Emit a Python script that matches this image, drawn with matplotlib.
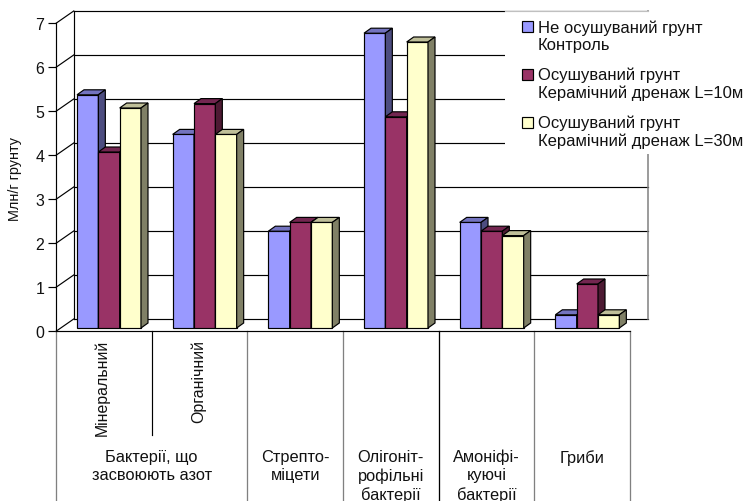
import matplotlib
matplotlib.use("Agg")
import matplotlib.pyplot as plt
from matplotlib.patches import Polygon, Patch, Rectangle
from matplotlib.legend_handler import HandlerPatch

plt.rcParams['font.family'] = ['Liberation Sans', 'DejaVu Sans']

# ---- data ----
groups = ["Мінеральний", "Органічний", "Стрепто-\nміцети", "Олігоніт-\nрофільні\nбактерії",
          "Амоніфі-\nкуючі\nбактерії", "Гриби"]
parent_label = "Бактерії, що\nзасвоюють азот"
series_names = ["Не осушуваний грунт\nКонтроль",
                "Осушуваний грунт\nКерамічний дренаж L=10м",
                "Осушуваний грунт\nКерамічний дренаж L=30м"]
control = [5.3, 4.4, 2.2, 6.7, 2.4, 0.3]
drain10 = [4.0, 5.1, 2.4, 4.8, 2.2, 1.0]
drain30 = [5.0, 4.4, 2.4, 6.5, 2.1, 0.3]
yticks = [0, 1, 2, 3, 4, 5, 6, 7]
ylabel = "Млн/г грунту"

# ---- styles / geometry (pixels of the 747x502 picture) ----
W, H = 747, 502
X0, Y0 = 56.0, 332.3      # data origin in pixels
CW, UH = 95.67, 44.0      # px per category, px per unit
sx = lambda px: px / CW
sy = lambda px: px / UH
faces = ["#9999FF", "#993366", "#FFFFCC"]
tops = ["#7373BF", "#732650", "#BFBF99"]
sides = ["#4D4D80", "#4D1A33", "#808066"]
GRAY = "#808080"
LW = 0.85
TXT = "#111111"


class FirstLineHandler(HandlerPatch):
    """Legend swatch aligned with the first line of a two-line label."""
    def create_artists(self, legend, orig_handle, xdescent, ydescent, width, height, fontsize, trans):
        artists = super().create_artists(legend, orig_handle, xdescent, ydescent, width, height, fontsize, trans)
        for a in artists:
            a.set_y(a.get_y() + 6.6)
        return artists


fig = plt.figure(figsize=(W / 100, H / 100), dpi=100, facecolor="white")
ax = fig.add_axes([0, 0, 1, 1])
ax.set_xlim(-X0 / CW, (W - X0) / CW)
ax.set_ylim((Y0 - H) / UH, Y0 / UH)
ax.patch.set_alpha(0)

# walls
wx, wy = sx(17.7), sy(12.3)
xr = 6
for v in yticks:
    ax.plot([wx, xr + wx], [v + wy, v + wy], color="black", lw=LW, zorder=1)
    ax.plot([0, wx], [v, v + wy], color="black", lw=LW, zorder=1)
ax.plot([wx, wx], [wy, 7 + wy], color="black", lw=LW, zorder=1)
ax.plot([xr + wx, xr + wx], [wy, 7 + wy], color=GRAY, lw=LW * 1.3, zorder=1)

# white legend panel that hides the right end of the back wall
ax.add_patch(Rectangle((505 / W, 1 - 155 / H), (W - 505) / W, 143 / H, transform=fig.transFigure,
                       facecolor="white", edgecolor="none", zorder=1.5))
ax.plot([sx(505 - X0), xr + wx], [7 + wy, 7 + wy], color="#C0C0C0", lw=LW, zorder=1.6)

# bars
dx, dy = sx(7), sy(5)
bw = 21.33 / CW
off = 21.0 / CW
base = 3.3 / UH
for s, vals in enumerate([control, drain10, drain30]):
    xs = [i + off + s * bw for i in range(len(vals))]
    ax.bar(xs, vals, width=bw, bottom=base, align="edge", color=faces[s],
           edgecolor="black", linewidth=LW, zorder=3 + 2 * s)
    for x, v in zip(xs, vals):
        t = base + v
        ax.add_patch(Polygon([(x, t), (x + dx, t + dy), (x + bw + dx, t + dy), (x + bw, t)],
                             facecolor=tops[s], edgecolor="black", lw=LW, zorder=3 + 2 * s))
        ax.add_patch(Polygon([(x + bw, base), (x + bw + dx, base + dy), (x + bw + dx, t + dy), (x + bw, t)],
                             facecolor=sides[s], edgecolor="black", lw=LW, zorder=3 + 2 * s))

# axes
for k in ("top", "right"):
    ax.spines[k].set_visible(False)
ax.spines["left"].set_position(("data", 0))
ax.spines["bottom"].set_position(("data", 0))
ax.spines["left"].set_bounds(0, 7)
ax.spines["bottom"].set_bounds(0, 6)
ax.spines["left"].set_linewidth(LW)
ax.spines["bottom"].set_linewidth(LW)
ax.spines["left"].set_zorder(2)
ax.spines["bottom"].set_zorder(2)
ax.set_yticks(yticks)
ax.tick_params(axis="y", length=5.8, width=LW, pad=2.5, labelsize=11.5, labelcolor=TXT)
ax.set_xticks([])
ax.text(sx(15 - X0), sy(Y0 - 179), ylabel, rotation=90, ha="center", va="center", fontsize=10.4, color=TXT)

# multi-level category axis
bottom = (Y0 - H) / UH
for b, c in [(0, GRAY), (2, GRAY), (3, GRAY), (4, "black"), (5, GRAY), (6, GRAY)]:
    ax.plot([b, b], [bottom, 0], color=c, lw=LW * 1.1, zorder=2, clip_on=True)
ax.plot([1, 1], [sy(Y0 - 436), 0], color="black", lw=LW, zorder=2)

FS = 11.8
LS = 1.25
line_top = sy(Y0 - 450)
for i, name in enumerate(groups[:2]):
    ax.text(i + 0.486, sy(Y0 - 340), name, rotation=90, ha="center", va="top", fontsize=11.4, color=TXT)
ax.text(1, line_top, parent_label, ha="center", va="top", fontsize=FS, linespacing=LS, color=TXT)
for i, name in enumerate(groups[2:], start=2):
    ax.text(i + 0.5, line_top, name, ha="center", va="top", fontsize=FS, linespacing=LS, color=TXT)

# legend
handles = [Patch(facecolor=f, edgecolor="black", linewidth=LW) for f in faces]
leg = ax.legend(handles, series_names, loc="upper left",
                bbox_to_anchor=(514 / W, 1 - 12 / H), bbox_transform=fig.transFigure,
                frameon=False, fontsize=12, handlelength=0.66, handleheight=0.66, handletextpad=0.25,
                labelspacing=0.87, borderpad=0.5, borderaxespad=0, labelcolor=TXT,
                handler_map={Patch: FirstLineHandler()})
leg.set_zorder(20)

fig.savefig("out.png", dpi=100)
